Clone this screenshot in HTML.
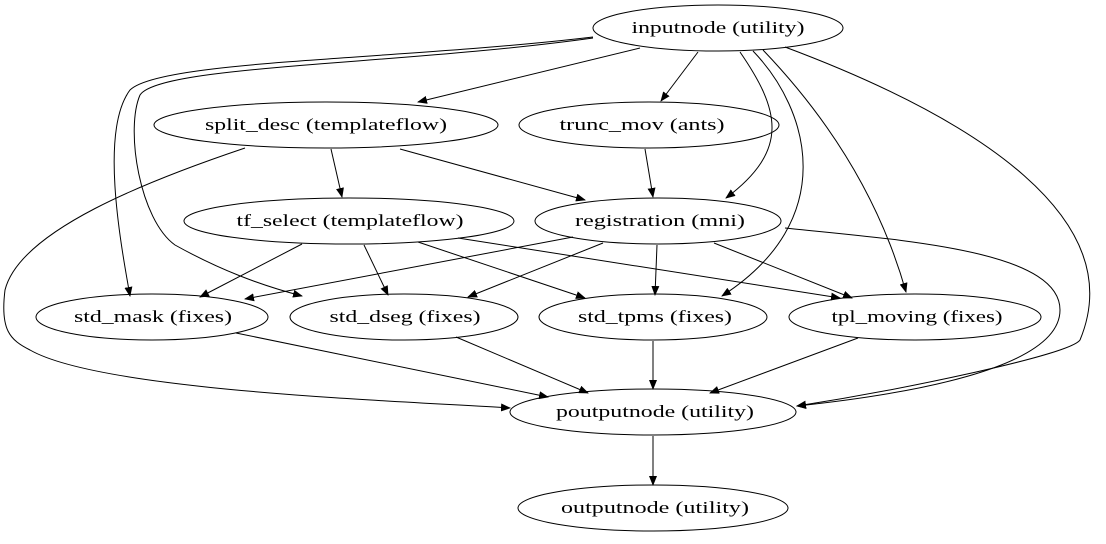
<!DOCTYPE html>
<html><head><meta charset="utf-8"><style>
html,body{margin:0;padding:0;background:#fff;}
svg text{font-family:"Liberation Serif",serif;font-size:17px;text-anchor:middle;fill:#000;}
</style></head><body>
<svg width="1106" height="539" viewBox="0 0 1106 539" xmlns="http://www.w3.org/2000/svg">
<defs><marker id="a" markerWidth="10" markerHeight="8" refX="9" refY="4" orient="auto" markerUnits="userSpaceOnUse"><path d="M0,0 L10,4 L0,8 Z" fill="#000"/></marker></defs>
<g fill="none" stroke="#000" stroke-width="1" marker-end="url(#a)">
<path d="M640,48 L418,102"/>
<path d="M698,52 L661,101"/>
<path d="M740,52 C780,110 790,150 726,198"/>
<path d="M753,51 C810,110 840,220 722,296"/>
<path d="M763,50 C830,120 880,200 906,292"/>
<path d="M785,47 C980,120 1130,220 1080,340 C1070,355 900,390 797,406"/>
<path d="M593,37 C400,60 160,60 130,90 C100,130 120,240 130,296"/>
<path d="M593,38 C400,65 160,65 140,95 C125,130 140,220 175,245 C220,270 260,285 302,296"/>
<path d="M331,149 L342,197"/>
<path d="M400,149 L585,200"/>
<path d="M245,148 C150,180 20,230 5,290 C0,330 10,340 30,350 C100,390 380,400 510,408"/>
<path d="M645,149 L653,197"/>
<path d="M302,244 L200,297"/>
<path d="M364,245 L388,295"/>
<path d="M418,242 L585,298"/>
<path d="M458,238 L840,298"/>
<path d="M573,237 L245,299"/>
<path d="M603,243 L468,297"/>
<path d="M657,245 L655,295"/>
<path d="M714,243 L852,298"/>
<path d="M785,228 C900,240 1060,250 1060,310 C1060,370 900,395 797,406"/>
<path d="M236,333 L548,397"/>
<path d="M456,337 L588,393"/>
<path d="M653,341 L653,389"/>
<path d="M858,338 L710,393"/>
<path d="M653,436 L653,485"/>
</g>
<g fill="none" stroke="#000" stroke-width="1">
<ellipse cx="718" cy="28" rx="125" ry="23"/>
<ellipse cx="326" cy="125" rx="172" ry="23"/>
<ellipse cx="649" cy="125" rx="130" ry="23"/>
<ellipse cx="349" cy="221" rx="165" ry="23"/>
<ellipse cx="658" cy="221" rx="123" ry="23"/>
<ellipse cx="152" cy="317" rx="116" ry="23"/>
<ellipse cx="404" cy="317" rx="114" ry="23"/>
<ellipse cx="653" cy="317" rx="114" ry="23"/>
<ellipse cx="915" cy="317" rx="126" ry="23"/>
<ellipse cx="653" cy="412" rx="143" ry="23"/>
<ellipse cx="653" cy="508" rx="135" ry="23"/>
</g>
<g lengthAdjust="spacingAndGlyphs">
<text x="718" y="33" textLength="173" lengthAdjust="spacingAndGlyphs">inputnode (utility)</text>
<text x="326" y="130" textLength="242" lengthAdjust="spacingAndGlyphs">split_desc (templateflow)</text>
<text x="642" y="130" textLength="165" lengthAdjust="spacingAndGlyphs">trunc_mov (ants)</text>
<text x="350" y="226" textLength="227" lengthAdjust="spacingAndGlyphs">tf_select (templateflow)</text>
<text x="660" y="226" textLength="170" lengthAdjust="spacingAndGlyphs">registration (mni)</text>
<text x="153" y="322" textLength="158" lengthAdjust="spacingAndGlyphs">std_mask (fixes)</text>
<text x="405" y="322" textLength="151" lengthAdjust="spacingAndGlyphs">std_dseg (fixes)</text>
<text x="655" y="322" textLength="154" lengthAdjust="spacingAndGlyphs">std_tpms (fixes)</text>
<text x="917" y="322" textLength="171" lengthAdjust="spacingAndGlyphs">tpl_moving (fixes)</text>
<text x="655" y="417" textLength="198" lengthAdjust="spacingAndGlyphs">poutputnode (utility)</text>
<text x="655" y="513" textLength="188" lengthAdjust="spacingAndGlyphs">outputnode (utility)</text>
</g>
</svg>
</body></html>
